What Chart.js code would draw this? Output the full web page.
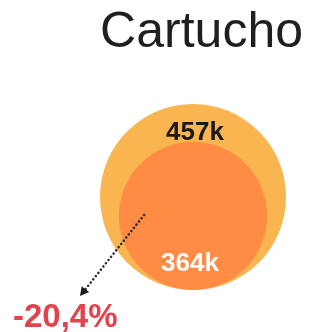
<!DOCTYPE html>
<html>
<head>
<meta charset="utf-8">
<script src="https://cdn.jsdelivr.net/npm/chart.js@4.4.1/dist/chart.umd.min.js"></script>
<style>
    html, body { margin: 0; padding: 0; background: #ffffff; }
    #wrap { width: 313px; height: 332px; position: relative; }
</style>
</head>
<body>
<div id="wrap"><canvas id="cartucho-chart"></canvas></div>
<script>
const title = 'Cartucho';
const categories = ['Antes', 'Depois'];
const values = [457, 364];          // thousands
const valueLabels = ['457k', '364k'];
const changeLabel = '-20,4%';

const outerColor = '#F9B550';
const innerColor = '#FF8C45';
const fontFamily = "'Liberation Sans', Arial, sans-serif";
const plotHeight = 220;      // px between title block and bottom padding
const outerDiameter = 186;   // px for the biggest value
const pxPerUnit = outerDiameter / Math.max(...values);

// each circle sits on the baseline and its diameter spans its value on the y axis
const points = values.map(v => ({ x: 0, y: v / 2, r: v / 2 * pxPerUnit }));

const circleLabels = {
    id: 'circleLabels',
    afterDatasetsDraw(chart) {
        const ctx = chart.ctx;
        const meta = chart.getDatasetMeta(0);
        const outer = meta.data[0];
        const inner = meta.data[1];
        const rOuter = outer.options.radius;
        const rInner = inner.options.radius;

        ctx.save();
        ctx.textAlign = 'center';
        ctx.textBaseline = 'middle';
        ctx.font = 'bold 26px ' + fontFamily;
        ctx.fillStyle = '#1a1a1a';
        ctx.fillText(valueLabels[0], outer.x + 2, outer.y - rOuter + 29);
        ctx.fillStyle = '#ffffff';
        ctx.fillText(valueLabels[1], inner.x - 3, inner.y + rInner - 26);

        // dotted arrow from the inner circle down to the change label
        const sx = inner.x - rInner * 0.66;
        const sy = inner.y - 1;
        const ex = 80;
        const ey = 296;
        ctx.strokeStyle = '#2a2a2a';
        ctx.lineWidth = 2.5;
        ctx.lineCap = 'round';
        ctx.setLineDash([0.1, 4]);
        ctx.beginPath();
        ctx.moveTo(sx, sy);
        ctx.lineTo(ex + 4, ey - 5);
        ctx.stroke();
        ctx.setLineDash([]);
        const ang = Math.atan2(ey - sy, ex - sx);
        ctx.fillStyle = '#1a1a1a';
        ctx.beginPath();
        ctx.moveTo(ex, ey);
        ctx.lineTo(ex - 10 * Math.cos(ang - 0.5), ey - 10 * Math.sin(ang - 0.5));
        ctx.lineTo(ex - 10 * Math.cos(ang + 0.5), ey - 10 * Math.sin(ang + 0.5));
        ctx.closePath();
        ctx.fill();

        ctx.textAlign = 'left';
        ctx.textBaseline = 'alphabetic';
        ctx.font = 'bold 33px ' + fontFamily;
        ctx.fillStyle = '#E2434F';
        ctx.fillText(changeLabel, 13, 327);
        ctx.restore();
    }
};

new Chart(document.getElementById('cartucho-chart'), {
    type: 'bubble',
    data: {
        labels: categories,
        datasets: [{
            data: points,
            backgroundColor: [outerColor, innerColor],
            hoverBackgroundColor: [outerColor, innerColor],
            borderWidth: 0,
            clip: false
        }]
    },
    options: {
        responsive: true,
        maintainAspectRatio: false,
        animation: false,
        events: [],
        layout: {
            autoPadding: false,
            padding: { left: 83, right: 10, top: 0, bottom: 42 }
        },
        plugins: {
            legend: { display: false },
            tooltip: { enabled: false },
            title: {
                display: true,
                text: title,
                align: 'end',
                color: '#1f1f1f',
                font: { family: fontFamily, size: 50, weight: 'normal' },
                padding: { top: 3, bottom: 7 }
            }
        },
        scales: {
            x: { display: false, min: -1, max: 1 },
            y: { display: false, min: 0, max: plotHeight / pxPerUnit }
        }
    },
    plugins: [circleLabels]
});
</script>
</body>
</html>
